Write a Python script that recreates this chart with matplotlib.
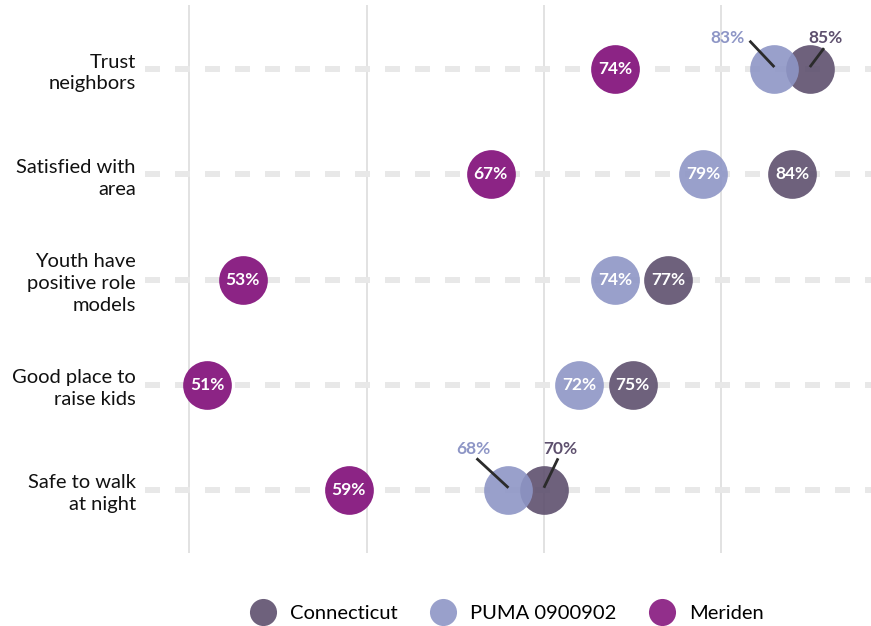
import matplotlib
matplotlib.use("Agg")
import matplotlib.pyplot as plt
from matplotlib.lines import Line2D

plt.rcParams['font.family'] = ['Lato', 'DejaVu Sans']
plt.rcParams['lines.scale_dashes'] = False

categories = ["Trust\nneighbors", "Satisfied with\narea", "Youth have\npositive role\nmodels",
              "Good place to\nraise kids", "Safe to walk\nat night"]
series_names = ["Connecticut", "PUMA 0900902", "Meriden"]
connecticut = [85, 84, 77, 75, 70]
puma = [83, 79, 74, 72, 68]
meriden = [74, 67, 53, 51, 59]
colors = ["#5e506e", "#8e96c6", "#86187f"]
gridlines = [50, 60, 70, 80]

fig = plt.figure(figsize=(8.71, 6.26), dpi=100)
ax = fig.add_axes([145/871, 1-553/626, (871-145)/871, (553-5)/626])
ax.set_xlim(47.5, 88.45)
ax.set_ylim(4.6, -0.61)

for g in gridlines:
    ax.axvline(g, color="#dddddd", lw=1.2, zorder=0)
for i in range(len(categories)):
    ax.plot([47.5, 88.45], [i, i], color="#e8e8e8", lw=4.3, dashes=(10.8, 10.8),
            solid_capstyle='butt', dash_capstyle='butt', zorder=1)

S = 1230
all_series = [connecticut, puma, meriden]
for vals, c, name in zip(all_series, colors, series_names):
    alpha = 0.9 if name != "Meriden" else 0.95
    ax.scatter(vals, range(len(vals)), s=S, color=c, alpha=alpha, zorder=3, linewidths=0)

for i in range(len(categories)):
    vals = [connecticut[i], puma[i], meriden[i]]
    close = abs(connecticut[i] - puma[i]) < 3
    top_row = i == 0
    for j, (v, c) in enumerate(zip(vals, colors)):
        if close and j < 2:
            if j == 0:
                tx = v + 0.9
                ty = i - (0.30 if top_row else 0.39)
                lx, ly = v + 0.8, i - (0.20 if top_row else 0.30)
            else:
                tx = v - (2.65 if top_row else 2.0)
                ty = i - (0.30 if top_row else 0.39)
                lx, ly = v - (1.4 if top_row else 1.8), i - (0.27 if top_row else 0.30)
            ax.plot([v, lx], [i - 0.02, ly], color="#2b2b2b", lw=2, zorder=4,
                    solid_capstyle='butt')
            ax.text(tx, ty, f"{v}%", color=c, fontsize=12.5, fontweight='bold',
                    ha='center', va='center', zorder=5)
        else:
            ax.text(v, i, f"{v}%", color="white", fontsize=12.5, fontweight='bold',
                    ha='center', va='center', zorder=5)

ax.set_yticks(range(len(categories)))
ax.set_yticklabels(categories, fontsize=14.5, color="#111111", linespacing=1.34)
ax.tick_params(axis='y', length=0, pad=6.5)
ax.set_xticks([])
for s in ax.spines.values():
    s.set_visible(False)

handles = [Line2D([], [], marker='o', ls='', markersize=19.5, markerfacecolor=c,
                  markeredgewidth=0, alpha=0.9) for c in colors]
fig.legend(handles, series_names, loc='center', bbox_to_anchor=(507/871, 1-613/626),
           ncol=3, frameon=False, fontsize=14.5, handlelength=1.3, handletextpad=0.7,
           columnspacing=1.6)

fig.savefig("out.png", dpi=100)
